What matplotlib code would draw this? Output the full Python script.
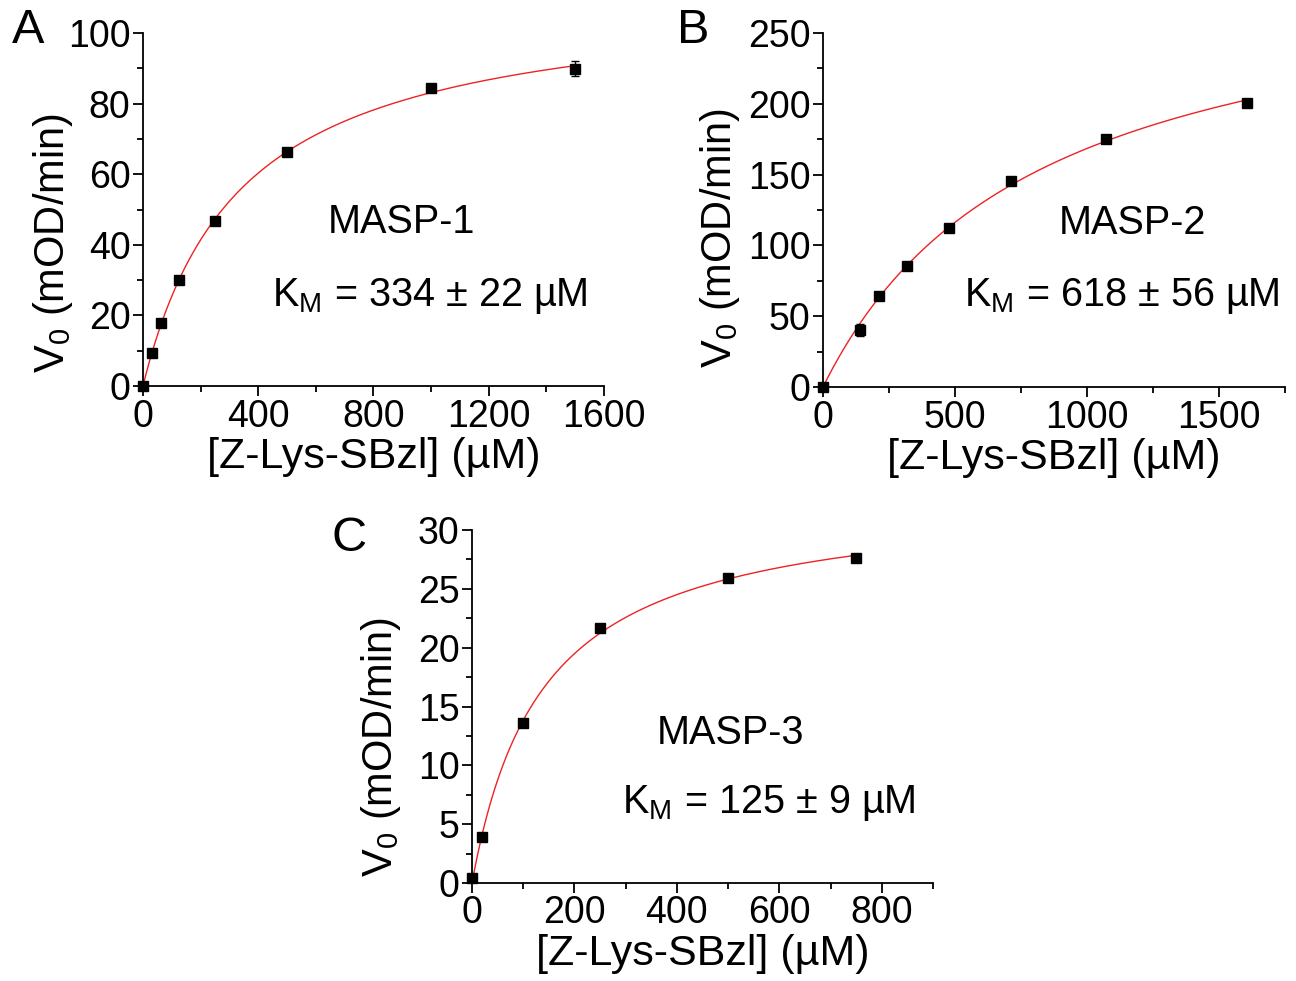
import numpy as np
import matplotlib
matplotlib.use('Agg')
import matplotlib.pyplot as plt
from matplotlib.ticker import MultipleLocator

plt.rcParams['font.family'] = ['Liberation Sans', 'DejaVu Sans']
plt.rcParams['mathtext.fontset'] = 'custom'
plt.rcParams['mathtext.rm'] = 'Liberation Sans'
plt.rcParams['mathtext.it'] = 'Liberation Sans:italic'

# data
masp1_conc = [0, 31.25, 62.5, 125, 250, 500, 1000, 1500]
masp1_rate = [0.0, 9.4, 17.8, 30.0, 46.8, 66.3, 84.4, 89.9]
masp1_err = [0, 0.3, 0.3, 0.3, 0.3, 0.3, 0.3, 2.1]

masp2_conc = [0, 141, 212, 317, 476, 714, 1071, 1607]
masp2_rate = [0.0, 40.0, 64.0, 85.7, 112.0, 145.7, 175.4, 200.3]
masp2_err = [0, 4.2, 0.5, 0.5, 0.5, 0.5, 0.5, 0.5]

masp3_conc = [0, 20, 100, 250, 500, 750]
masp3_rate = [0.4, 3.9, 13.6, 21.7, 25.9, 27.6]
masp3_err = [0, 0.1, 0.1, 0.1, 0.1, 0.1]

labels = ['MASP-1', 'MASP-2', 'MASP-3']
km_texts = [r'K$_\mathregular{M}$ = 334 ± 22 µM',
            r'K$_\mathregular{M}$ = 618 ± 56 µM',
            r'K$_\mathregular{M}$ = 125 ± 9 µM']


def mm_fit(s, v):
    # least squares Michaelis-Menten fit (grid over Km, closed form Vmax)
    s = np.asarray(s, float)
    v = np.asarray(v, float)
    best = None
    for km in np.linspace(10, 3000, 3000):
        f = s / (km + s)
        vmax = np.sum(v * f) / np.sum(f * f)
        err = np.sum((v - vmax * f) ** 2)
        if best is None or err < best[0]:
            best = (err, km, vmax)
    return best[1], best[2]


def panel(ax, conc, rate, err, xlim, ylim, xmaj, xmin, ymaj, ymin,
          name, km_text, name_pos, km_pos, ylab_pos):
    km, vmax = mm_fit(conc, rate)
    xs = np.linspace(0, max(conc), 400)
    ax.plot(xs, vmax * xs / (km + xs), color='#ee2222', lw=1.0, zorder=2)
    ax.errorbar(conc, rate, yerr=err, fmt='s', color='black', ms=6.5,
                elinewidth=1, capsize=3, capthick=1, clip_on=False, zorder=3)
    ax.set_xlim(xlim)
    ax.set_ylim(ylim)
    ax.xaxis.set_major_locator(MultipleLocator(xmaj))
    ax.xaxis.set_minor_locator(MultipleLocator(xmin))
    ax.yaxis.set_major_locator(MultipleLocator(ymaj))
    ax.yaxis.set_minor_locator(MultipleLocator(ymin))
    for side in ['top', 'right']:
        ax.spines[side].set_visible(False)
    for side in ['left', 'bottom']:
        ax.spines[side].set_linewidth(1.3)
    ax.tick_params(which='major', direction='out', length=7, width=1.3,
                   labelsize=27, pad=2)
    ax.tick_params(which='minor', direction='out', length=4, width=1.3)
    ax.set_xlabel('[Z-Lys-SBzl] (µM)', fontsize=31, labelpad=2)
    ax.set_ylabel(r'V$_\mathregular{0}$ (mOD/min)', fontsize=30)
    ax.yaxis.set_label_coords(*ylab_pos)
    ax.text(name_pos[0], name_pos[1], name, fontsize=28.5, ha='center', va='center')
    ax.text(km_pos[0], km_pos[1], km_text, fontsize=28.5, ha='center', va='center')


fig = plt.figure(figsize=(12.96, 9.81), dpi=100)
axA = fig.add_axes([0.1103, 0.6065, 0.3557, 0.3598])
axB = fig.add_axes([0.6350, 0.6055, 0.3565, 0.3610])
axC = fig.add_axes([0.3642, 0.0999, 0.3557, 0.3598])

panel(axA, masp1_conc, masp1_rate, masp1_err, (0, 1600), (0, 100),
      400, 200, 20, 10, labels[0], km_texts[0], (897, 46.5), (995, 25.5),
      (-0.148, 0.405))
panel(axB, masp2_conc, masp2_rate, masp2_err, (0, 1750), (0, 250),
      500, 250, 50, 25, labels[1], km_texts[1], (1171, 116), (1133, 64),
      (-0.175, 0.42))
panel(axC, masp3_conc, masp3_rate, masp3_err, (0, 900), (0, 30),
      200, 100, 5, 2.5, labels[2], km_texts[2], (505, 12.76), (579, 6.8),
      (-0.15, 0.385))

fig.text(0.0093, 0.969, 'A', fontsize=35, va='center', ha='left')
fig.text(0.522, 0.969, 'B', fontsize=35, va='center', ha='left')
fig.text(0.256, 0.451, 'C', fontsize=35, va='center', ha='left')

plt.savefig('out.png', dpi=100)
